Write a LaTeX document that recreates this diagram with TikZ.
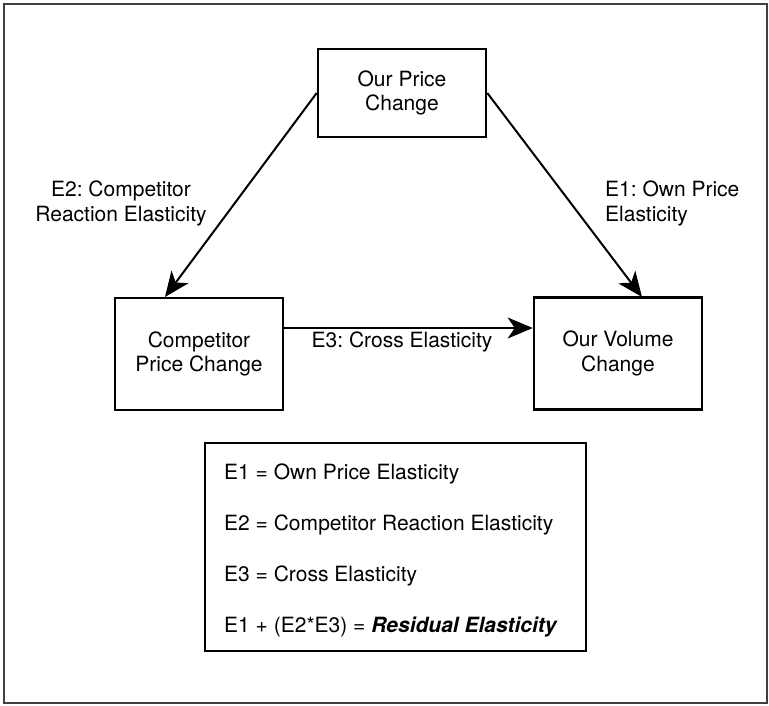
\documentclass[tikz,border=0pt]{standalone}
\usepackage{fontspec}
\setmainfont{TeX Gyre Heros}
\usetikzlibrary{arrows.meta,calc}
\frenchspacing
\begin{document}
\begin{tikzpicture}[x=1pt,y=-1pt,
  txt/.style={font=\fontsize{21}{24.5}\selectfont\frenchspacing, inner sep=0pt},
  box/.style={txt, draw, line width=2.6pt, align=center, minimum width=168pt},
  lab/.style={txt, align=center},
  conn/.style={line width=2pt, -{Stealth[length=25pt,width=21pt,inset=7pt]}}]
\useasboundingbox (0,0) rectangle (769,705);
\draw[line width=2pt, black!75] (4,4) rectangle (767,703);
\node[box, minimum height=88pt] (our) at (402,93) {Our Price\\Change};
\node[box, minimum height=112pt] (comp) at (199,354) {Competitor\\Price Change};
\node[box, minimum height=112pt] (vol) at (618,353.5) {Our Volume\\Change};
\coordinate (h) at (0,328);
\coordinate (tipL) at (165,297);
\coordinate (tipR) at (642,297);
\draw[conn] (our.west) -- (tipL);
\draw[conn] (our.east) -- (tipR);
\draw[conn] (comp.east |- h) -- (vol.west |- h);
\node[lab] (e2) at (121,203.5) {E2: Competitor\\Reaction Elasticity};
\node[lab, align=left, anchor=west] (e1) at (605,203.5) {E1: Own Price\\Elasticity};
\node[txt, anchor=base] (e3) at (402,347) {E3: Cross Elasticity};
\node[draw, line width=2.6pt, minimum width=381pt, minimum height=208pt, inner sep=0pt] (legend) at (395.5,547) {};
\node[txt, anchor=base west] (l1) at (224,479) {E1 = Own Price Elasticity};
\node[txt, anchor=base west] (l2) at (224,530) {E2 = Competitor Reaction Elasticity};
\node[txt, anchor=base west] (l3) at (224,581) {E3 = Cross Elasticity};
\node[txt, anchor=base west] (l4) at (224,632) {E1 + (E2*E3) = \textbf{\textit{Residual Elasticity}}};
\end{tikzpicture}
\end{document}
